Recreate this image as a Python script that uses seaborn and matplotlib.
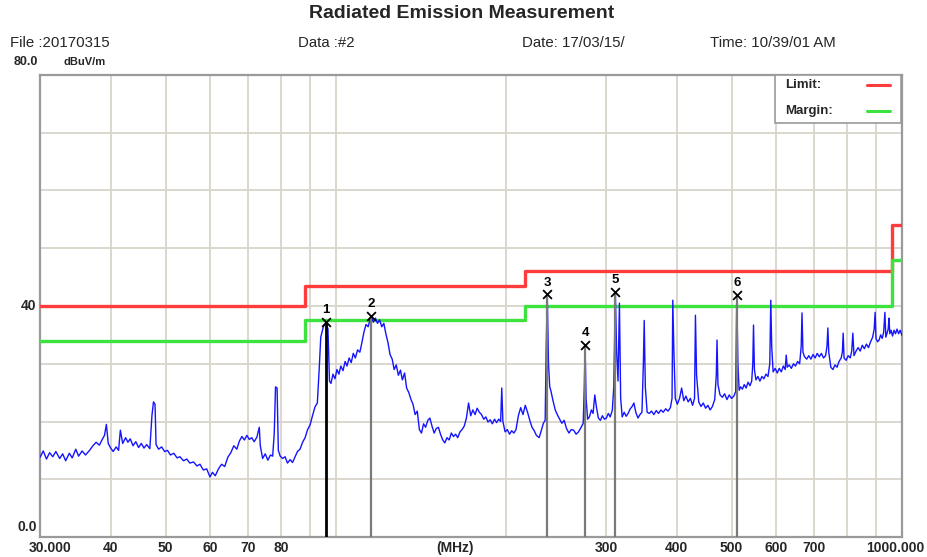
import matplotlib
matplotlib.use("Agg")
import matplotlib.pyplot as plt
import seaborn as sns
from matplotlib.patches import Rectangle

# ---------------- data ----------------
freq_mhz = [
    30.0, 30.4, 30.8, 31.2, 31.6, 32.0, 32.5, 32.9, 33.3, 33.8, 34.2, 34.7, 35.1, 35.6, 36.1,
    36.7, 37.2, 37.7, 38.2, 38.6, 39.0, 39.3, 39.6, 40.0, 40.4, 40.9, 41.3, 41.6, 42.0, 42.5,
    42.9, 43.3, 43.8, 44.3, 44.8, 45.3, 45.8, 46.3, 46.9, 47.3, 47.6, 47.9, 48.1, 48.6, 49.2,
    49.8, 50.4, 51.0, 51.7, 52.4, 53.0, 53.8, 54.5, 55.2, 56.0, 56.8, 57.5, 58.3, 59.1, 59.9,
    60.5, 61.2, 62.0, 62.8, 63.6, 64.4, 65.2, 66.0, 66.8, 67.5, 68.2, 68.9, 69.6, 70.3, 71.0,
    71.7, 72.5, 73.2, 73.5, 74.2, 75.0, 75.8, 76.6, 77.3, 77.8, 78.2, 78.7, 79.1, 79.7, 80.5,
    81.3, 82.1, 83.0, 83.8, 84.6, 85.5, 86.4, 87.3, 88.2, 89.1, 90.0, 90.9, 91.8, 92.7, 93.4,
    94.0, 95.0, 96.0, 96.8, 97.4, 98.0, 98.8, 99.6, 100.4, 101.2, 102.0, 102.9, 103.8, 104.6,
    105.5, 106.4, 107.3, 108.2, 109.2, 110.2, 111.1, 112.0, 113.0, 114.0, 115.3, 116.4, 117.4,
    118.4, 119.4, 120.5, 121.5, 122.5, 123.6, 124.6, 125.7, 126.7, 127.8, 128.9, 130.0, 131.0,
    132.2, 133.3, 134.5, 135.7, 136.8, 138.0, 139.2, 140.4, 141.6, 142.8, 144.0, 145.3, 146.5,
    147.8, 149.1, 150.4, 151.7, 153.0, 154.4, 155.7, 157.1, 158.5, 159.9, 161.3, 162.7, 164.1,
    165.6, 167.0, 168.5, 170.0, 171.5, 173.0, 174.5, 176.1, 177.6, 179.2, 180.8, 182.4, 184.0,
    185.6, 187.3, 188.9, 190.6, 192.2, 193.9, 195.4, 196.3, 197.2, 199.0, 200.8, 202.6, 204.4,
    206.2, 208.0, 210.0, 212.0, 214.0, 216.0, 218.0, 220.0, 222.0, 224.0, 226.0, 228.5, 230.5,
    232.5, 234.2, 235.2, 236.2, 237.4, 238.6, 239.6, 241.8, 244.0, 246.0, 248.4, 250.6, 253.0,
    255.4, 258.0, 260.4, 263.0, 265.6, 268.2, 270.8, 273.4, 274.6, 275.5, 276.6, 278.4, 280.4,
    282.6, 284.6, 286.6, 288.6, 290.8, 293.2, 295.6, 298.0, 300.4, 302.8, 305.2, 307.8, 309.6,
    311.6, 313.2, 315.0, 316.8, 318.4, 320.4, 323.0, 325.6, 328.2, 331.0, 333.6, 336.0, 338.6,
    341.6, 344.4, 347.2, 349.2, 350.4, 352.0, 354.6, 357.6, 361.0, 364.4, 368.0, 371.4, 375.0,
    378.6, 382.4, 386.0, 389.8, 392.4, 393.6, 395.4, 397.6, 401.0, 404.6, 408.0, 411.6, 415.2,
    419.0, 422.8, 426.6, 430.0, 431.6, 433.6, 437.4, 441.4, 445.6, 449.8, 454.0, 458.2, 462.4,
    466.8, 469.8, 471.2, 473.0, 477.0, 481.6, 486.0, 490.6, 495.2, 499.8, 504.6, 508.4, 509.6,
    510.6, 513.0, 515.6, 518.6, 522.4, 526.4, 530.4, 534.6, 538.8, 542.6, 545.0, 546.6, 548.6,
    552.0, 556.4, 561.0, 565.6, 570.2, 575.0, 579.8, 584.0, 586.4, 588.6, 592.0, 597.0, 602.0,
    607.0, 612.0, 617.0, 621.8, 624.4, 627.0, 632.0, 637.6, 643.0, 648.4, 653.8, 659.4, 663.6,
    665.8, 668.4, 672.8, 678.6, 684.4, 690.4, 696.4, 702.4, 708.4, 714.4, 720.4, 726.6, 732.8,
    737.0, 739.6, 742.4, 748.6, 755.0, 761.4, 767.8, 774.2, 780.8, 784.6, 787.2, 790.0, 796.6,
    803.4, 810.2, 815.0, 818.8, 822.6, 829.6, 836.6, 843.6, 850.8, 858.0, 865.2, 872.6, 880.0,
    887.4, 893.0, 896.4, 899.6, 905.4, 911.0, 916.8, 922.6, 928.0, 932.8, 936.4, 941.4, 945.4,
    948.4, 951.6, 956.6, 962.2, 968.0, 974.0, 980.0, 986.2, 992.6, 1000.0,
]
level_dbuv = [
    13.8, 14.9, 13.5, 14.6, 13.9, 14.8, 13.6, 14.4, 13.2, 14.5, 13.7, 15.2, 14.0, 14.9, 14.2,
    15.0, 15.8, 16.4, 15.9, 16.8, 17.6, 19.5, 16.2, 15.4, 14.8, 15.6, 15.0, 18.5, 16.2, 17.2,
    16.4, 17.0, 15.8, 16.5, 15.5, 16.2, 15.4, 16.0, 15.3, 21.0, 23.4, 23.0, 16.0, 15.2, 15.6,
    14.8, 15.0, 14.2, 14.5, 13.7, 13.9, 13.2, 13.5, 12.8, 13.0, 12.3, 12.6, 11.6, 11.8, 10.4,
    11.2, 10.6, 11.8, 12.6, 12.2, 13.8, 14.6, 15.8, 15.2, 16.6, 17.4, 16.8, 17.6, 16.9, 17.2,
    16.5, 17.3, 19.0, 15.8, 13.6, 14.4, 13.3, 14.2, 14.0, 18.0, 26.0, 25.8, 15.0, 14.0, 13.6,
    13.9, 12.8, 13.4, 12.9, 13.8, 14.8, 15.2, 16.4, 17.2, 18.6, 19.4, 21.0, 22.5, 23.2, 29.0,
    34.6, 36.4, 37.2, 36.0, 27.0, 26.6, 28.2, 27.4, 29.0, 28.2, 29.6, 28.8, 30.4, 29.6,
    31.0, 30.2, 31.8, 31.0, 32.4, 32.0, 33.6, 35.4, 36.8, 36.4, 38.3, 37.2, 37.9,
    37.0, 37.6, 36.4, 37.0, 35.2, 33.6, 31.6, 30.8, 29.0, 29.8, 28.0, 28.9, 27.2,
    28.4, 25.8, 25.0, 23.8, 23.0, 21.2, 21.8, 18.6, 18.0, 19.6, 19.0, 20.2, 20.6,
    19.2, 18.0, 18.8, 19.0, 17.8, 16.8, 16.3, 17.2, 16.8, 18.0, 17.4, 17.8, 17.2,
    18.2, 18.6, 19.2, 20.6, 23.2, 21.0, 22.0, 21.2, 22.3, 21.6, 21.2, 20.4, 20.8,
    19.9, 20.3, 19.6, 20.4, 19.8, 20.4, 20.0, 25.8, 20.0, 18.2, 18.6, 17.8, 18.4,
    18.0, 18.6, 21.0, 22.4, 21.2, 22.8, 21.6, 20.2, 19.0, 18.4, 17.6, 17.2, 18.4,
    19.7, 20.2, 33.0, 42.0, 30.0, 26.0, 25.4, 23.6, 22.0, 21.2, 20.4, 19.7, 20.2,
    18.8, 18.0, 18.6, 18.5, 17.8, 18.2, 18.9, 19.7, 26.0, 33.2, 24.0, 20.4, 20.8,
    22.0, 21.4, 24.6, 22.4, 20.6, 20.2, 21.0, 20.4, 20.6, 21.4, 20.8, 22.0, 26.0,
    42.4, 32.0, 27.0, 40.5, 24.0, 20.8, 21.6, 20.9, 21.4, 22.2, 22.6, 23.2, 21.6,
    20.6, 21.2, 21.6, 30.0, 37.5, 26.0, 21.6, 21.4, 21.8, 21.2, 21.9, 21.4, 22.0,
    21.6, 22.2, 21.8, 22.4, 24.0, 41.0, 32.0, 24.0, 23.0, 24.0, 25.8, 23.6, 24.4,
    23.4, 24.0, 22.8, 24.0, 38.4, 28.0, 23.4, 22.6, 23.2, 22.3, 22.8, 22.0, 22.6,
    23.8, 28.0, 34.1, 26.4, 24.6, 24.2, 24.8, 23.8, 24.6, 24.0, 24.4, 25.2, 34.0,
    41.9, 30.0, 25.4, 26.0, 25.6, 26.4, 25.8, 26.8, 26.2, 27.0, 30.0, 36.7, 29.0,
    27.2, 27.8, 27.0, 27.8, 27.4, 28.2, 27.8, 30.0, 41.0, 33.0, 28.6, 29.2, 28.4,
    29.2, 28.6, 29.6, 29.0, 31.5, 29.4, 29.8, 29.2, 30.0, 29.6, 30.4, 30.0, 33.0,
    38.8, 32.0, 31.2, 30.8, 31.4, 30.8, 31.6, 31.0, 31.8, 31.2, 31.8, 31.0, 31.4,
    33.0, 36.2, 32.0, 29.4, 29.0, 29.8, 29.4, 30.4, 31.0, 32.0, 35.3, 31.0, 30.6,
    31.4, 31.0, 32.2, 35.3, 31.4, 32.2, 32.8, 32.2, 33.2, 32.6, 33.4, 32.8, 33.8,
    34.6, 36.0, 38.9, 34.4, 33.8, 34.1, 35.0, 34.4, 35.4, 38.9, 34.6, 35.4, 36.0,
    37.9, 35.2, 35.8, 34.8, 35.8, 35.2, 36.0, 35.2, 35.8, 34.9,
]

limit_freq = [30, 88, 216, 960, 1000]
limit_level = [40.0, 43.5, 46.0, 54.0, 54.0]
margin_level = [34.0, 37.5, 40.0, 48.0, 48.0]

marker_ids = ["1", "2", "3", "4", "5", "6"]
marker_freq = [96.0, 115.3, 236.2, 275.5, 311.6, 510.6]
marker_level = [37.2, 38.3, 42.0, 33.2, 42.4, 41.9]

xtick_values = [30, 40, 50, 60, 70, 80, 300, 400, 500, 600, 700, 1000]
xtick_labels = ["30.000", "40", "50", "60", "70", "80", "300", "400", "500", "600", "700", "1000.000"]
grid_freqs = [40, 50, 60, 70, 80, 90, 100, 200, 300, 400, 500, 600, 700, 800, 900]
grid_levels = [10, 20, 30, 40, 50, 60, 70]

title_text = "Radiated Emission Measurement"
header_texts = ["File :20170315", "Data :#2", "Date: 17/03/15/", "Time: 10/39/01 AM"]

# ---------------- style ----------------
sns.set_theme(style="white")
plt.rcParams["font.family"] = ["Liberation Sans", "DejaVu Sans"]

fig = plt.figure(figsize=(9.27, 5.57), dpi=100)
ax = fig.add_axes([40 / 927, 20 / 557, 862 / 927, 462 / 557])
ax.set_xscale("log")
ax.set_xlim(30, 1000)
ax.set_ylim(0, 80)

grid_col = "#d8d4cc"
for g in grid_freqs:
    ax.axvline(g, color=grid_col, lw=1.3, zorder=0)
for g in grid_levels:
    ax.axhline(g, color=grid_col, lw=1.3, zorder=0)

ax.set_xticks([])
ax.set_yticks([])
ax.minorticks_off()
ax.set_xlabel("")
ax.set_ylabel("")
for s in ax.spines.values():
    s.set_color("#9a9a9a")
    s.set_linewidth(1.6)

# limit & margin
sns.lineplot(x=limit_freq, y=limit_level, ax=ax, color="#ff3c3c", lw=2.4,
             drawstyle="steps-post", estimator=None, zorder=3)
sns.lineplot(x=limit_freq, y=margin_level, ax=ax, color="#3ee23e", lw=2.4,
             drawstyle="steps-post", estimator=None, zorder=3)

# trace
sns.lineplot(x=freq_mhz, y=level_dbuv, ax=ax, color="#1414ff", lw=1.0,
             estimator=None, sort=False, zorder=4)

# marker lines
for i, (f, l) in enumerate(zip(marker_freq, marker_level)):
    if i == 0:
        ax.vlines(f, 0, l, color="black", lw=2.0, zorder=5)
    else:
        ax.vlines(f, 0, l, color="#7a7a7a", lw=1.6, zorder=5)

sns.scatterplot(x=marker_freq, y=marker_level, ax=ax, marker="x", color="black",
                s=40, linewidth=1.3, zorder=6, legend=False)
for mid, f, l in zip(marker_ids, marker_freq, marker_level):
    ax.annotate(mid, (f, l), xytext=(0, 8.5), textcoords="offset points",
                ha="center", va="center", fontsize=9.5, fontweight="bold",
                color="black", zorder=7)

# x tick labels
xt = ax.get_xaxis_transform()
for v, lab in zip(xtick_values, xtick_labels):
    dx = 0
    if lab == "30.000":
        dx = 7
    if lab == "1000.000":
        dx = -5
    ax.annotate(lab, (v, 0), xycoords=xt, xytext=(dx, -8), textcoords="offset points",
                ha="center", va="center", fontsize=10, fontweight="bold", annotation_clip=False)
ax.annotate("(MHz)", (162, 0), xycoords=xt, xytext=(0, -8), textcoords="offset points",
            ha="center", va="center", fontsize=10, fontweight="bold", annotation_clip=False)

# y labels
yt = ax.get_yaxis_transform()
ax.text(-0.004, 40, "40", transform=yt, ha="right", va="center", fontsize=10, fontweight="bold")
ax.text(-0.004, 0.5, "0.0", transform=yt, ha="right", va="bottom", fontsize=10, fontweight="bold")
fig.text(14 / 927, 1 - 62 / 557, "80.0", ha="left", va="center", fontsize=9, fontweight="bold")
fig.text(64 / 927, 1 - 62 / 557, "dBuV/m", ha="left", va="center", fontsize=8, fontweight="bold")

# title and header
fig.text(462 / 927, 1 - 14 / 557, title_text, ha="center", va="center", fontsize=14, fontweight="bold")
for txt, xpx in zip(header_texts, [10, 298, 522, 710]):
    fig.text(xpx / 927, 1 - 43 / 557, txt, ha="left", va="center", fontsize=10.8)

# legend box
x0 = (775 - 40) / 862
y0 = (537 - 123) / 462
ax.add_patch(Rectangle((x0, y0), 0.9985 - x0, 1.0 - y0, transform=ax.transAxes,
                       facecolor="white", edgecolor="#9a9a9a", lw=1.2, zorder=8))
for lab, ypx, col in [("Limit:", 85, "#ff3c3c"), ("Margin:", 111, "#3ee23e")]:
    yy = (537 - ypx) / 462
    ax.text((785 - 40) / 862, yy, lab, transform=ax.transAxes, ha="left", va="center",
            fontsize=9.5, fontweight="bold", zorder=9)
    ax.plot([(867 - 40) / 862, (890 - 40) / 862], [yy, yy], transform=ax.transAxes,
            color=col, lw=2.2, zorder=9)

fig.savefig("out.png", dpi=100)
